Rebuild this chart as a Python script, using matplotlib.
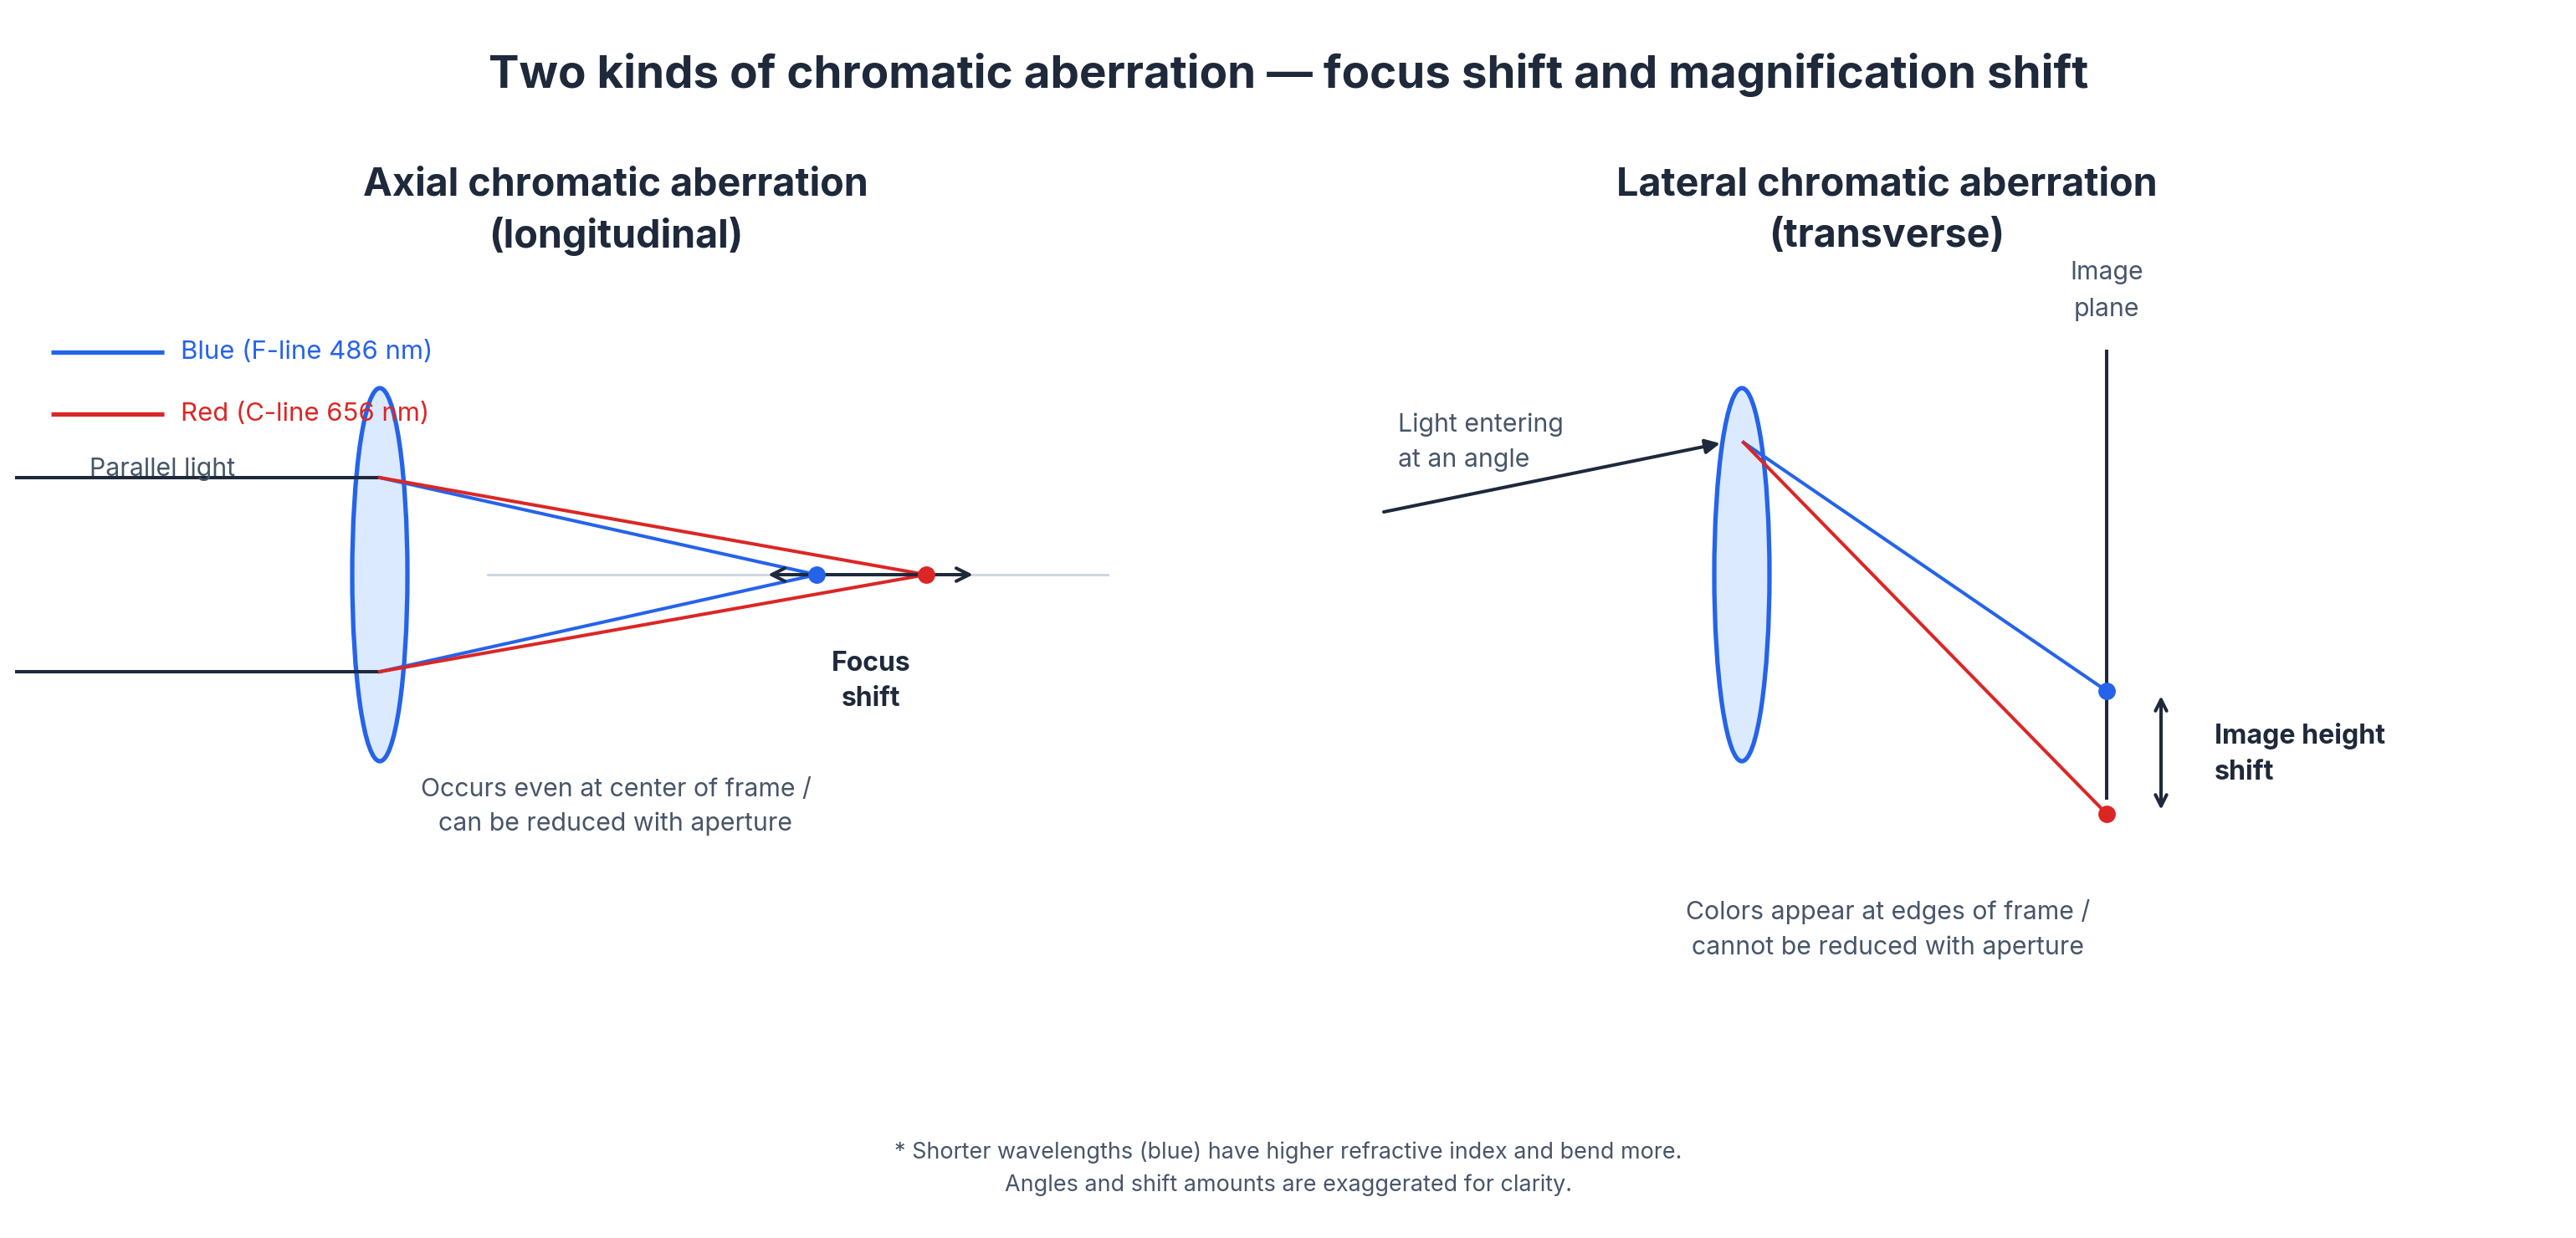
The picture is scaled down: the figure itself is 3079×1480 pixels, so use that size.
import matplotlib
matplotlib.use("Agg")
import matplotlib.pyplot as plt
from matplotlib.patches import Ellipse

plt.rcParams['font.family'] = ['Inter', 'DejaVu Sans']

# ---- data / labels ----
title = "Two kinds of chromatic aberration \u2014 focus shift and magnification shift"
left_title = ["Axial chromatic aberration", "(longitudinal)"]
right_title = ["Lateral chromatic aberration", "(transverse)"]
legend_labels = ["Blue (F-line 486 nm)", "Red (C-line 656 nm)"]
left_note = ["Occurs even at center of frame /", "can be reduced with aperture"]
right_note = ["Colors appear at edges of frame /", "cannot be reduced with aperture"]
footnote = ["* Shorter wavelengths (blue) have higher refractive index and bend more.",
            "Angles and shift amounts are exaggerated for clarity."]

# diagram geometry (pixel space)
ray_heights = [571, 803]
axis_y = 687
focus_blue_x = 976
focus_red_x = 1107
lens_left_x = 454
lens_right_x = 2082
ray_origin_right = (2084, 529)
image_plane_x = 2518
image_blue_y = 826
image_red_y = 973

BLUE = "#2563eb"
RED = "#dc2626"
DARK = "#1e293b"
GRAY = "#475569"
LENSFILL = "#dbeafe"

W, H = 3079, 1480
fig = plt.figure(figsize=(W / 200, H / 200), dpi=200)
ax = fig.add_axes([0, 0, 1, 1])
ax.set_xlim(0, W)
ax.set_ylim(H, 0)
ax.axis("off")

# title
ax.text(1540, 90, title, ha="center", va="center", fontsize=19.7, fontweight="bold", color=DARK)
for i, t in enumerate(left_title):
    ax.text(736, 222 + 61 * i, t, ha="center", va="center", fontsize=16.8, fontweight="bold", color=DARK)
for i, t in enumerate(right_title):
    ax.text(2255, 222 + 61 * i, t, ha="center", va="center", fontsize=16.8, fontweight="bold", color=DARK)

# legend
for y, c, lab in zip([421, 495], [BLUE, RED], legend_labels):
    ax.plot([61, 196], [y, y], color=c, lw=1.9, solid_capstyle="butt")
    ax.text(216, y, lab, ha="left", va="center", fontsize=11.2, color=c)

# ---- left: axial ----
ax.plot([583, 1324], [axis_y, axis_y], color="#cbd5e1", lw=1.0, zorder=1)
lens = Ellipse((lens_left_x, axis_y), 66, 446, facecolor=LENSFILL, edgecolor=BLUE, lw=1.9, zorder=2)
ax.add_patch(lens)
for y in ray_heights:
    ax.plot([20, lens_left_x], [y, y], color=DARK, lw=1.45, zorder=3)
ax.text(107, 561, "Parallel light", ha="left", va="center", fontsize=10.9, color=GRAY, zorder=4)
for y in ray_heights:
    ax.plot([lens_left_x, focus_blue_x], [y, axis_y], color=BLUE, lw=1.45, zorder=3)
    ax.plot([lens_left_x, focus_red_x], [y, axis_y], color=RED, lw=1.45, zorder=3)
ax.annotate("", xy=(918, axis_y), xytext=(1163, axis_y),
            arrowprops=dict(arrowstyle="<->", color=DARK, lw=1.45, mutation_scale=14,
                            shrinkA=0, shrinkB=0), zorder=5)
ax.plot([focus_blue_x], [axis_y], "o", color=BLUE, ms=6.5, zorder=6)
ax.plot([focus_red_x], [axis_y], "o", color=RED, ms=6.5, zorder=6)
ax.text(1041, 794, "Focus", ha="center", va="center", fontsize=11.5, fontweight="bold", color=DARK)
ax.text(1041, 836, "shift", ha="center", va="center", fontsize=11.5, fontweight="bold", color=DARK)
for i, t in enumerate(left_note):
    ax.text(736, 944 + 41 * i, t, ha="center", va="center", fontsize=10.9, color=GRAY)

# ---- right: lateral ----
lens2 = Ellipse((lens_right_x, axis_y), 66, 446, facecolor=LENSFILL, edgecolor=BLUE, lw=1.9, zorder=2)
ax.add_patch(lens2)
ax.annotate("", xy=(2056, 530), xytext=(1654, 612),
            arrowprops=dict(arrowstyle="-|>", color=DARK, lw=1.45, mutation_scale=13,
                            shrinkA=0, shrinkB=0), zorder=5)
ax.text(1671, 508, "Light entering", ha="left", va="center", fontsize=10.9, color=GRAY)
ax.text(1671, 550, "at an angle", ha="left", va="center", fontsize=10.9, color=GRAY)
ax.plot([image_plane_x, image_plane_x], [420, 954], color=DARK, lw=1.45, zorder=3)
ax.text(image_plane_x, 326, "Image", ha="center", va="center", fontsize=10.9, color=GRAY)
ax.text(image_plane_x, 370, "plane", ha="center", va="center", fontsize=10.9, color=GRAY)
ox, oy = ray_origin_right
ax.plot([ox, image_plane_x], [oy, image_blue_y], color=BLUE, lw=1.45, zorder=4)
ax.plot([ox, image_plane_x], [oy, image_red_y], color=RED, lw=1.45, zorder=4)
ax.plot([image_plane_x], [image_blue_y], "o", color=BLUE, ms=6.5, zorder=6)
ax.plot([image_plane_x], [image_red_y], "o", color=RED, ms=6.5, zorder=6)
ax.annotate("", xy=(2583, 832), xytext=(2583, 968),
            arrowprops=dict(arrowstyle="<->", color=DARK, lw=1.45, mutation_scale=12,
                            shrinkA=0, shrinkB=0), zorder=5)
ax.text(2647, 880, "Image height", ha="left", va="center", fontsize=11.6, fontweight="bold", color=DARK)
ax.text(2647, 923, "shift", ha="left", va="center", fontsize=11.6, fontweight="bold", color=DARK)
for i, t in enumerate(right_note):
    ax.text(2257, 1090 + 43 * i, t, ha="center", va="center", fontsize=10.9, color=GRAY)

# footnote
for i, t in enumerate(footnote):
    ax.text(1540, 1378 + 39 * i, t, ha="center", va="center", fontsize=9.7, color=GRAY)

fig.savefig("out.png", dpi=200, facecolor="white")
